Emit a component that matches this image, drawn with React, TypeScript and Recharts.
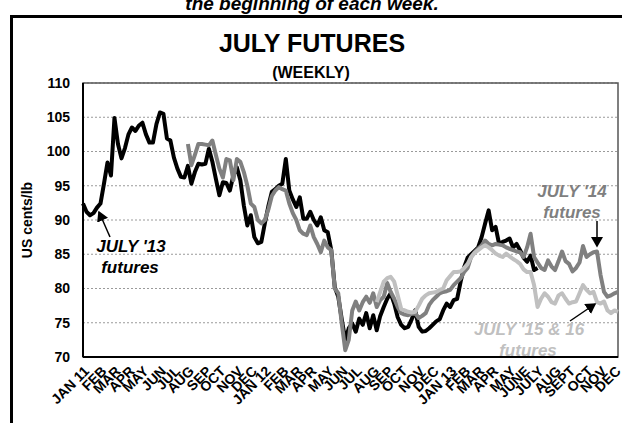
import React from "react";
import {
  LineChart,
  Line,
  XAxis,
  YAxis,
  CartesianGrid,
  ReferenceArea,
} from "recharts";

// week 0 = first week of Jan 2011, one row per week
const TOTAL_WEEKS = 153;

const monthLabels = [
  "JAN 11", "FEB", "MAR", "APR", "MAY", "JUN", "JUL", "AUG", "SEP", "OCT", "NOV", "DEC",
  "JAN 12", "FEB", "MAR", "APR", "MAY", "JUN", "JUL", "AUG", "SEP", "OCT", "NOV", "DEC",
  "JAN 13", "FEB", "MAR", "APR", "MAY", "JUNE", "JULY", "AUG", "SEPT", "OCT", "NOV", "DEC",
];
// first week of each month
const monthWeeks = [
  0, 5, 9, 13, 17, 22, 26, 30, 35, 39, 44, 48,
  52, 57, 61, 65, 70, 74, 78, 83, 87, 91, 96, 100,
  105, 109, 113, 117, 122, 126, 130, 135, 139, 144, 148, 152,
];
const yTicks = [70, 75, 80, 85, 90, 95, 100, 105, 110];
const markWeeks = Array.from({ length: 39 }, (_, i) => i * 4);

// July '13 futures, from week 0
const jul13Start = 0;
const jul13Values = [
  92.4, 91.2, 90.7, 91.0, 91.8, 92.4, 95.3, 98.4, 96.5, 104.9,
  101.1, 99.0, 100.5, 102.5, 103.5, 103.0, 103.8, 104.2, 102.5, 101.3,
  101.3, 104.0, 105.7, 105.5, 101.9, 101.6, 99.1, 97.5, 96.3, 96.2,
  97.9, 95.3, 97.0, 98.2, 98.1, 98.2, 100.4, 98.5, 96.0, 93.6,
  95.5, 95.4, 94.3, 96.5, 97.7, 95.8, 92.1, 89.2, 90.7, 87.5,
  86.6, 86.8, 89.5, 92.0, 94.1, 94.5, 95.0, 95.3, 98.9, 94.3,
  93.0, 91.9, 93.3, 90.2, 90.2, 91.2, 90.0, 89.2, 90.4, 88.5,
  88.2, 85.6, 80.2, 78.8, 75.5, 72.5, 74.2, 74.9, 73.7, 75.6,
  74.7, 76.4, 74.2, 76.1, 73.9, 76.0, 77.3, 78.5, 79.3, 77.8,
  75.8, 74.7, 74.2, 74.4, 75.5, 76.8, 74.4, 73.7, 73.8, 74.2,
  74.7, 75.2, 75.5, 76.8, 77.8, 77.3, 78.3, 78.5, 81.0, 83.1,
  84.5, 85.0, 85.5, 86.0, 87.5, 89.5, 91.4, 88.5, 89.0, 86.5,
  86.8, 87.0, 87.3, 86.0, 86.5, 85.6, 84.5, 83.9, 84.8, 82.7,
  83.0,
];

// July '14 futures, from week 30
const jul14Start = 30;
const jul14Values = [
  101.1, 98.0, 99.5, 101.1, 101.1, 101.0, 100.9, 101.6, 99.5, 97.5,
  96.2, 98.9, 98.7, 95.8, 98.9, 98.5, 97.0, 95.0, 92.4, 91.9,
  90.0, 89.5, 90.0, 91.5, 93.5, 94.3, 94.8, 94.5, 94.3, 92.4,
  91.0, 90.0, 88.5, 88.0, 87.8, 89.2, 87.5, 86.5, 85.3, 87.0,
  86.0, 85.6, 80.0, 79.3, 74.9, 71.0, 72.5, 76.8, 78.1, 76.8,
  78.0, 78.8, 77.9, 79.3, 77.3, 78.3, 78.8, 80.8, 79.5, 78.5,
  77.3, 76.4, 76.2, 76.1, 76.3, 76.4, 75.7, 76.0, 76.4, 77.6,
  78.3, 78.8, 79.3, 79.5, 79.6, 79.8, 80.5, 81.0, 81.5, 82.4,
  83.0, 84.6, 85.3, 85.8, 86.3, 87.0, 86.5, 86.3, 86.5, 86.4,
  86.3, 86.0, 85.8, 85.6, 85.4, 85.3, 84.6, 86.0, 88.0, 84.6,
  83.8, 83.0, 82.7, 84.1, 83.2, 82.7, 84.0, 85.4, 84.0, 83.6,
  82.5, 83.0, 83.8, 86.2, 84.6, 85.0, 85.3, 85.4, 82.0, 79.5,
  78.8, 79.0, 79.3, 79.5,
];

// July '15 & '16 futures, from week 84
const jul15Start = 84;
const jul15Values = [
  78.0, 79.5, 81.0, 81.5, 81.7, 81.0, 79.0, 77.0, 76.8, 76.6,
  76.5, 76.6, 77.5, 78.5, 79.0, 79.3, 79.4, 79.5, 79.8, 80.0,
  81.2, 81.8, 82.4, 82.4, 82.5, 83.0, 83.6, 84.6, 85.2, 85.6,
  86.0, 86.3, 86.0, 85.6, 85.1, 84.8, 84.6, 85.1, 84.7, 84.3,
  84.0, 83.6, 82.8, 82.4, 82.4, 80.5, 77.3, 78.5, 79.3, 78.8,
  78.0, 77.8, 79.0, 79.3, 78.5, 77.8, 78.0, 78.1, 79.3, 80.5,
  79.8, 79.3, 79.5, 78.0, 77.8, 78.1, 76.8, 76.4, 76.8, 76.6,
];

const pick = (values: number[], start: number, w: number) =>
  w >= start && w - start < values.length ? values[w - start] : null;

const data = Array.from({ length: TOTAL_WEEKS + 1 }, (_, w) => ({
  week: w,
  jul13: pick(jul13Values, jul13Start, w),
  jul14: pick(jul14Values, jul14Start, w),
  jul15: pick(jul15Values, jul15Start, w),
}));

const FONT = "'Liberation Sans', Arial, Helvetica, sans-serif";

const monthLabel = (w: number) => {
  const i = monthWeeks.indexOf(w);
  return i >= 0 ? monthLabels[i] : "";
};

const App: React.FC = () => {
  return (
    <div
      style={{
        position: "absolute",
        left: 0,
        top: 0,
        width: 622,
        height: 423,
        overflow: "hidden",
        background: "#fff",
        fontFamily: FONT,
      }}
    >
      {/* outer frame of the slide */}
      <div
        style={{
          position: "absolute",
          left: 10,
          top: 15,
          width: 640,
          height: 440,
          border: "3px solid #000",
        }}
      />
      <LineChart
        width={622}
        height={423}
        data={data}
        margin={{ top: 83, right: 4, bottom: 0, left: 0 }}
        style={{ position: "absolute", left: 0, top: 0 }}
      >
        <CartesianGrid
          vertical={false}
          stroke="#9a9a9a"
          strokeDasharray="2 2"
        />
        <XAxis
          xAxisId="marks"
          dataKey="week"
          type="number"
          domain={[0, TOTAL_WEEKS]}
          ticks={markWeeks}
          height={0}
          tick={false}
          tickSize={5}
          tickLine={{ stroke: "#000", strokeWidth: 1.5 }}
          axisLine={false}
        />
        <XAxis
          dataKey="week"
          type="number"
          domain={[0, TOTAL_WEEKS]}
          ticks={monthWeeks}
          interval={0}
          tickFormatter={monthLabel}
          height={66}
          tickSize={0}
          tickMargin={8}
          angle={-45}
          textAnchor="end"
          tickLine={false}
          axisLine={{ stroke: "#000", strokeWidth: 2 }}
          tick={{ fill: "#000", fontSize: 14, fontWeight: 700, fontFamily: FONT }}
        />
        <YAxis
          domain={[70, 110]}
          ticks={yTicks}
          width={83}
          tickSize={0}
          tickMargin={13}
          tickLine={false}
          axisLine={{ stroke: "#000", strokeWidth: 2 }}
          tick={{ fill: "#000", fontSize: 14, fontWeight: 700, fontFamily: FONT }}
          label={{
            value: "US cents/lb",
            angle: -90,
            position: "insideLeft",
            offset: 27,
            style: { fill: "#000", fontSize: 14, fontWeight: 700, fontFamily: FONT, textAnchor: "middle" },
          }}
        />
        <ReferenceArea
          x1={0}
          x2={TOTAL_WEEKS}
          y1={70}
          y2={110}
          fill="none"
          stroke="#555"
          strokeWidth={1.5}
        />
        <Line
          dataKey="jul13"
          stroke="#000"
          strokeWidth={4}
          dot={false}
          strokeLinejoin="round"
          isAnimationActive={false}
        />
        <Line
          dataKey="jul14"
          stroke="#808080"
          strokeWidth={4}
          dot={false}
          strokeLinejoin="round"
          isAnimationActive={false}
        />
        <Line
          dataKey="jul15"
          stroke="#c0c0c0"
          strokeWidth={4}
          dot={false}
          strokeLinejoin="round"
          isAnimationActive={false}
        />
      </LineChart>

      {/* titles and annotations */}
      <svg
        width={622}
        height={423}
        style={{ position: "absolute", left: 0, top: 0, pointerEvents: "none" }}
      >
        <defs>
          <marker id="ah-black" markerWidth="8" markerHeight="8" refX="6" refY="4" orient="auto">
            <path d="M0,0 L7,4 L0,8 Z" fill="#000" />
          </marker>
        </defs>
        <text x={312} y={10} textAnchor="middle" fontFamily={FONT} fontSize={19} fontWeight={700} fontStyle="italic">
          the beginning of each week.
        </text>
        <text x={312} y={52} textAnchor="middle" fontFamily={FONT} fontSize={25} fontWeight={700}>
          JULY FUTURES
        </text>
        <text x={311} y={78} textAnchor="middle" fontFamily={FONT} fontSize={16} fontWeight={700}>
          (WEEKLY)
        </text>

        <text x={131} y={252} textAnchor="middle" fontFamily={FONT} fontSize={17} fontWeight={700} fontStyle="italic" fill="#000">
          JULY '13
        </text>
        <text x={130} y={273} textAnchor="middle" fontFamily={FONT} fontSize={17} fontWeight={700} fontStyle="italic" fill="#000">
          futures
        </text>
        <line x1={110} y1={237} x2={99} y2={212} stroke="#000" strokeWidth={1.5} markerEnd="url(#ah-black)" />

        <text x={572} y={197} textAnchor="middle" fontFamily={FONT} fontSize={17} fontWeight={700} fontStyle="italic" fill="#7f7f7f">
          JULY '14
        </text>
        <text x={572} y={218} textAnchor="middle" fontFamily={FONT} fontSize={17} fontWeight={700} fontStyle="italic" fill="#7f7f7f">
          futures
        </text>
        <line x1={597} y1={221} x2={597} y2={246} stroke="#000" strokeWidth={1.5} markerEnd="url(#ah-black)" />

        <text x={529} y={335} textAnchor="middle" fontFamily={FONT} fontSize={17} fontWeight={700} fontStyle="italic" fill="#c0c0c0">
          JULY '15 &amp; 16
        </text>
        <text x={528} y={356} textAnchor="middle" fontFamily={FONT} fontSize={17} fontWeight={700} fontStyle="italic" fill="#c0c0c0">
          futures
        </text>
        <line x1={570} y1={321} x2={595} y2={304} stroke="#000" strokeWidth={1.5} markerEnd="url(#ah-black)" />
      </svg>
    </div>
  );
};

export default App;
